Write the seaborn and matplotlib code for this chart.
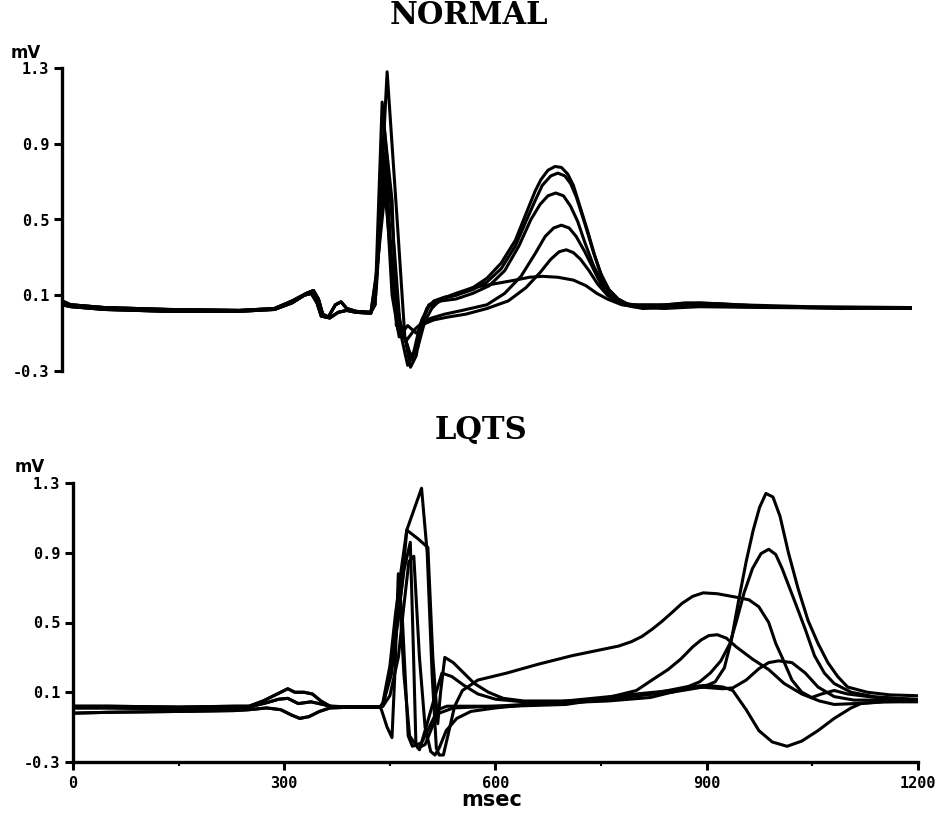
import numpy as np
import pandas as pd
import matplotlib
matplotlib.use("Agg")
import matplotlib.pyplot as plt
import seaborn as sns

# ---- veri: (msec, mV) noktalari ----
# NORMAL panel, QRS oncesi (P dalgasi) iki varyant
normal_pre_1 = [(0, 0.07), (12, 0.05), (60, 0.035), (150, 0.025), (250, 0.02), (300, 0.03),
                (325, 0.07), (345, 0.11), (355, 0.125), (362, 0.08), (368, 0.0), (376, -0.015),
                (386, 0.05), (394, 0.065), (402, 0.03), (415, 0.015), (436, 0.01)]
normal_pre_2 = [(0, 0.05), (12, 0.04), (60, 0.025), (150, 0.015), (250, 0.015), (300, 0.025),
                (325, 0.06), (342, 0.10), (352, 0.11), (360, 0.06), (366, -0.01), (378, -0.02),
                (390, 0.01), (402, 0.02), (415, 0.01), (436, 0.005)]

normal_a = [(442, 0.05), (459, 1.28), (474, 0.45), (484, -0.12), (492, -0.28), (500, -0.22),
            (508, -0.06), (515, 0.03), (525, 0.07), (540, 0.09), (556, 0.10), (580, 0.14),
            (600, 0.19), (620, 0.27), (640, 0.39), (655, 0.53), (668, 0.65), (676, 0.71),
            (686, 0.76), (696, 0.78), (705, 0.775), (714, 0.74), (722, 0.68), (732, 0.56),
            (742, 0.44), (752, 0.31), (762, 0.20), (772, 0.13), (785, 0.08), (800, 0.05),
            (830, 0.04), (880, 0.06), (930, 0.055), (1000, 0.04), (1100, 0.03), (1200, 0.035)]
normal_b = [(442, 0.05), (452, 1.12), (466, 0.50), (478, -0.10), (488, -0.27), (498, -0.20),
            (508, -0.03), (518, 0.05), (535, 0.08), (556, 0.10), (580, 0.13), (600, 0.17),
            (620, 0.24), (640, 0.36), (655, 0.49), (668, 0.60), (678, 0.68), (690, 0.73),
            (700, 0.745), (710, 0.73), (718, 0.69), (726, 0.62), (738, 0.48), (750, 0.33),
            (760, 0.22), (772, 0.13), (785, 0.08), (800, 0.05), (850, 0.05), (900, 0.06),
            (950, 0.05), (1050, 0.04), (1200, 0.035)]
normal_c = [(443, 0.1), (455, 0.98), (466, 0.60), (472, -0.06), (482, -0.10), (494, -0.24),
            (506, -0.05), (518, 0.04), (535, 0.07), (556, 0.08), (580, 0.11), (603, 0.15),
            (625, 0.23), (645, 0.36), (662, 0.50), (675, 0.58), (686, 0.625), (697, 0.64),
            (708, 0.625), (718, 0.57), (728, 0.49), (738, 0.38), (750, 0.26), (762, 0.17),
            (775, 0.10), (792, 0.06), (820, 0.04), (880, 0.05), (950, 0.045), (1050, 0.035),
            (1200, 0.035)]
normal_d = [(444, 0.15), (456, 0.85), (466, 0.25), (474, -0.08), (486, -0.14), (498, -0.08),
            (510, -0.04), (522, -0.02), (540, 0.0), (565, 0.02), (600, 0.05), (625, 0.11),
            (648, 0.20), (668, 0.32), (682, 0.41), (694, 0.455), (705, 0.47), (716, 0.455),
            (726, 0.41), (738, 0.33), (750, 0.24), (762, 0.15), (776, 0.09), (792, 0.05),
            (820, 0.03), (880, 0.04), (950, 0.04), (1050, 0.035), (1200, 0.035)]
normal_e = [(444, 0.2), (456, 0.75), (466, 0.10), (476, -0.12), (488, -0.06), (500, -0.10),
            (512, -0.05), (525, -0.03), (545, -0.015), (570, 0.0), (600, 0.03), (630, 0.07),
            (655, 0.14), (675, 0.22), (690, 0.29), (702, 0.33), (712, 0.34), (722, 0.325),
            (732, 0.29), (744, 0.23), (756, 0.16), (770, 0.10), (786, 0.06), (805, 0.04),
            (850, 0.03), (900, 0.04), (1000, 0.035), (1200, 0.03)]
normal_f = [(445, 0.25), (456, 0.65), (468, 0.15), (478, -0.05), (492, -0.22), (502, -0.18),
            (512, -0.04), (522, 0.03), (535, 0.08), (556, 0.11), (580, 0.14), (610, 0.16),
            (640, 0.18), (660, 0.195), (678, 0.20), (700, 0.195), (722, 0.18), (740, 0.15),
            (755, 0.11), (770, 0.08), (790, 0.05), (820, 0.04), (880, 0.045), (960, 0.04),
            (1200, 0.03)]

# LQTS panel, QRS oncesi uc varyant
lqts_pre_1 = [(0, 0.02), (50, 0.02), (150, 0.015), (230, 0.02), (250, 0.02), (270, 0.05),
              (290, 0.09), (305, 0.12), (315, 0.10), (328, 0.10), (340, 0.09), (352, 0.05),
              (365, 0.02), (400, 0.015), (436, 0.015)]
lqts_pre_2 = [(0, -0.02), (50, -0.015), (150, -0.01), (230, -0.005), (250, 0.0), (275, 0.01),
              (295, 0.0), (310, -0.03), (322, -0.05), (335, -0.04), (350, -0.01), (365, 0.01),
              (400, 0.015), (436, 0.015)]
lqts_pre_3 = [(0, 0.01), (50, 0.01), (150, 0.005), (230, 0.01), (250, 0.015), (275, 0.04),
              (292, 0.06), (305, 0.065), (320, 0.035), (338, 0.045), (355, 0.03), (370, 0.015),
              (436, 0.015)]

lqts_1 = [(440, 0.03), (452, 0.2), (468, 0.75), (474, 1.03), (495, 1.27), (503, 0.9),
          (510, 0.2), (516, -0.22), (520, -0.26), (526, -0.26), (534, -0.12), (542, 0.02),
          (553, 0.11), (575, 0.17), (616, 0.21), (660, 0.26), (709, 0.31), (745, 0.34),
          (775, 0.365), (793, 0.39), (808, 0.42), (822, 0.46), (836, 0.505), (850, 0.555),
          (865, 0.61), (880, 0.65), (895, 0.67), (915, 0.665), (942, 0.645), (960, 0.63),
          (974, 0.59), (988, 0.50), (998, 0.38), (1007, 0.30), (1021, 0.17), (1035, 0.10),
          (1049, 0.07), (1063, 0.09), (1081, 0.11), (1100, 0.09), (1140, 0.07), (1200, 0.06)]
lqts_2 = [(440, 0.03), (452, 0.25), (466, 0.8), (474, 1.03), (490, 0.98), (504, 0.93),
          (511, 0.3), (518, -0.08), (522, 0.1), (528, 0.30), (540, 0.27), (555, 0.21),
          (570, 0.15), (590, 0.10), (611, 0.065), (640, 0.05), (700, 0.05), (750, 0.06),
          (800, 0.08), (850, 0.10), (895, 0.13), (912, 0.16), (925, 0.24), (935, 0.40),
          (945, 0.62), (956, 0.85), (966, 1.03), (975, 1.16), (984, 1.24), (994, 1.22),
          (1004, 1.11), (1016, 0.90), (1030, 0.69), (1044, 0.51), (1058, 0.38), (1072, 0.27),
          (1086, 0.19), (1100, 0.13), (1128, 0.10), (1160, 0.085), (1200, 0.08)]
lqts_3 = [(440, 0.02), (455, 0.3), (470, 0.8), (479, 0.96), (483, 0.4), (487, -0.2),
          (492, -0.23), (500, -0.12), (512, 0.05), (524, 0.21), (538, 0.19), (555, 0.14),
          (575, 0.09), (600, 0.06), (640, 0.045), (700, 0.04), (760, 0.05), (820, 0.07),
          (860, 0.11), (890, 0.16), (905, 0.21), (920, 0.28), (933, 0.38), (943, 0.52),
          (953, 0.67), (965, 0.81), (977, 0.895), (988, 0.92), (998, 0.89), (1007, 0.81),
          (1026, 0.61), (1040, 0.46), (1053, 0.31), (1067, 0.21), (1081, 0.15), (1105, 0.10),
          (1137, 0.075), (1200, 0.055)]
lqts_4 = [(438, 0.0), (446, -0.10), (453, -0.16), (457, 0.2), (462, 0.78), (468, 0.5),
          (476, -0.15), (482, -0.21), (495, -0.19), (506, -0.1), (518, 0.0), (531, 0.02),
          (560, 0.02), (620, 0.02), (700, 0.03), (750, 0.06), (800, 0.11), (826, 0.18),
          (845, 0.23), (863, 0.29), (880, 0.36), (892, 0.40), (903, 0.425), (915, 0.43),
          (928, 0.41), (942, 0.36), (965, 0.29), (988, 0.23), (1010, 0.15), (1035, 0.09),
          (1060, 0.05), (1081, 0.03), (1110, 0.035), (1150, 0.045), (1200, 0.05)]
lqts_5 = [(440, 0.02), (450, 0.08), (462, 0.3), (470, 0.6), (477, 0.85), (484, 0.88),
          (492, 0.3), (500, -0.1), (508, -0.24), (514, -0.26), (520, -0.22), (530, -0.12),
          (545, -0.05), (565, -0.01), (600, 0.01), (650, 0.03), (700, 0.05), (750, 0.07),
          (800, 0.09), (850, 0.11), (890, 0.13), (923, 0.12), (937, 0.125), (956, 0.17),
          (974, 0.235), (988, 0.27), (1002, 0.28), (1021, 0.27), (1040, 0.21), (1058, 0.13),
          (1081, 0.075), (1109, 0.055), (1200, 0.055)]
lqts_6 = [(440, 0.04), (450, 0.25), (458, 0.55), (463, 0.7), (470, 0.2), (478, -0.15),
          (490, -0.22), (500, -0.2), (510, -0.1), (520, -0.02), (540, 0.01), (600, 0.02),
          (680, 0.04), (760, 0.06), (820, 0.09), (870, 0.13), (900, 0.14), (923, 0.13),
          (937, 0.11), (956, 0.0), (974, -0.12), (993, -0.185), (1014, -0.21), (1035, -0.18),
          (1058, -0.12), (1081, -0.05), (1105, 0.01), (1119, 0.035), (1151, 0.045), (1200, 0.045)]

y_ticks = [-0.3, 0.1, 0.5, 0.9, 1.3]
y_labels = ["-0.3", "0.1", "0.5", "0.9", "1.3"]
x_ticks = [0, 300, 600, 900, 1200]
x_minor = [150, 450, 750, 1050]

normal_egriler = {
    "a": normal_pre_1 + normal_a, "b": normal_pre_1 + normal_b, "c": normal_pre_2 + normal_c,
    "d": normal_pre_2 + normal_d, "e": normal_pre_1 + normal_e, "f": normal_pre_2 + normal_f,
}
lqts_egriler = {
    "1": lqts_pre_1 + lqts_1, "2": lqts_pre_3 + lqts_2, "3": lqts_pre_1 + lqts_3,
    "4": lqts_pre_2 + lqts_4, "5": lqts_pre_3 + lqts_5, "6": lqts_pre_2 + lqts_6,
}

def tablo_yap(egriler):
    satirlar = []
    for ad, noktalar in egriler.items():
        for ms, mv in noktalar:
            satirlar.append({"msec": ms, "mV": mv, "egri": ad})
    return pd.DataFrame(satirlar)

sns.set_style("ticks")
plt.rcParams["font.family"] = ["DejaVu Sans"]
plt.rcParams["text.color"] = "black"
plt.rcParams["axes.edgecolor"] = "black"
plt.rcParams["xtick.color"] = "black"
plt.rcParams["ytick.color"] = "black"

fig = plt.figure(figsize=(9.45, 8.14), dpi=100)
ax_ust = fig.add_axes([62 / 945, 1 - 371 / 814, 850 / 945, 303 / 814])
ax_alt = fig.add_axes([73 / 945, 1 - 762 / 814, 845 / 945, 279 / 814])

tick_font = dict(family="DejaVu Sans Mono", weight="bold", size=11)

for ax, egriler in [(ax_ust, normal_egriler), (ax_alt, lqts_egriler)]:
    df = tablo_yap(egriler)
    sns.lineplot(data=df, x="msec", y="mV", units="egri", estimator=None, sort=False,
                 color="black", linewidth=2.2, ax=ax)
    ax.set_xlim(0, 1200)
    ax.set_ylim(-0.3, 1.3)
    ax.set_xlabel("")
    ax.set_ylabel("")
    ax.set_yticks(y_ticks)
    ax.set_yticklabels(y_labels, fontdict=tick_font)
    ax.tick_params(axis="y", direction="out", length=6, width=2.2, pad=3)
    ax.spines["left"].set_linewidth(2.4)
    ax.patch.set_alpha(0)

# ust panel: alt eksen yok
sns.despine(ax=ax_ust, bottom=True)
ax_ust.set_xticks([])

# alt panel: x ekseni
sns.despine(ax=ax_alt)
ax_alt.spines["bottom"].set_linewidth(2.4)
ax_alt.set_xticks(x_ticks)
ax_alt.set_xticklabels([str(v) for v in x_ticks], fontdict=tick_font)
ax_alt.set_xticks(x_minor, minor=True)
ax_alt.tick_params(axis="x", which="major", direction="out", length=6, width=2.2, pad=4)
ax_alt.tick_params(axis="x", which="minor", direction="out", length=3, width=1.5)

# basliklar ve birimler
fig.text(469 / 945, 1 - 16 / 814, "NORMAL", ha="center", va="center",
         family="DejaVu Serif", weight="bold", fontsize=22)
fig.text(481 / 945, 1 - 430 / 814, "LQTS", ha="center", va="center",
         family="DejaVu Serif", weight="bold", fontsize=22)
fig.text(26 / 945, 1 - 53 / 814, "mV", ha="center", va="center", weight="bold", fontsize=12)
fig.text(30 / 945, 1 - 467 / 814, "mV", ha="center", va="center", weight="bold", fontsize=12)
fig.text(492 / 945, 1 - 800 / 814, "msec", ha="center", va="center", weight="bold", fontsize=15)

fig.savefig("out.png", dpi=100)
